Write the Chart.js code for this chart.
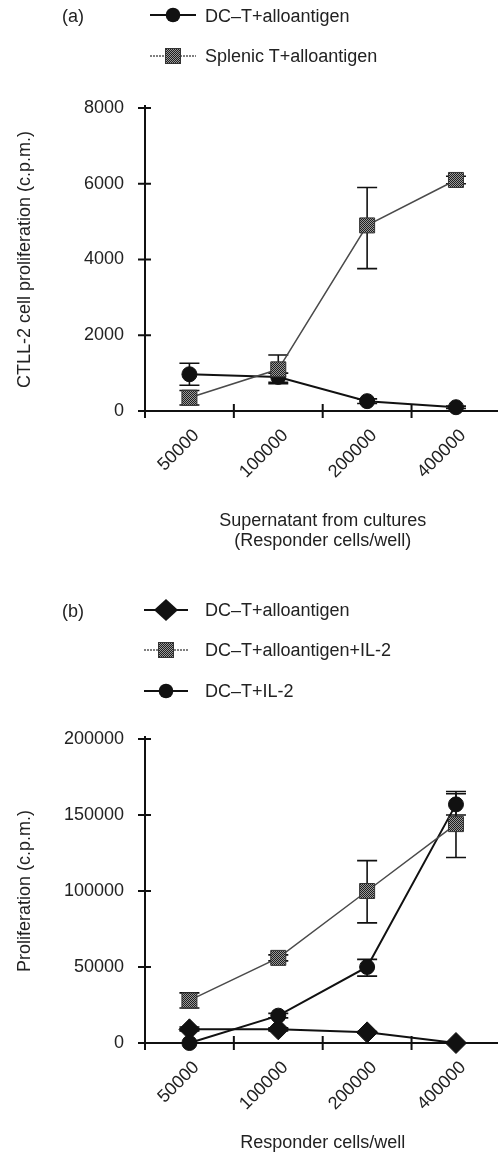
<!DOCTYPE html>
<html><head><meta charset="utf-8">
<script src="https://cdn.jsdelivr.net/npm/chart.js@4.4.0/dist/chart.umd.min.js"></script>
<style>
html,body{margin:0;padding:0;background:#fff;}
body{width:498px;height:1157px;position:relative;overflow:hidden;font-family:"Liberation Sans",Arial,Helvetica,sans-serif;color:#222;}
canvas{position:absolute;left:0;}
.txt{position:absolute;font-size:18px;line-height:20px;white-space:nowrap;color:#222;}
.mk{position:absolute;}
</style></head><body>
<canvas id="ca" width="512" height="560" style="top:0;width:512px;height:560px"></canvas>
<canvas id="cb" width="512" height="597" style="top:560px;width:512px;height:597px"></canvas>
<div id="overlay"></div>
<script>
// ---------- data ----------
const categories = ['50000', '100000', '200000', '400000'];

// panel (a)
const aLabels = ['DC\u2013T+alloantigen', 'Splenic T+alloantigen'];
const aDcT      = [970, 900, 260, 100];
const aDcTLow   = [680, 760, 200, 70];
const aDcTHigh  = [1260, 1000, 320, 130];
const aSplenic     = [350, 1100, 4900, 6100];
const aSplenicLow  = [160, 720, 3760, 6000];
const aSplenicHigh = [540, 1480, 5900, 6200];
const aYTicks = [0, 2000, 4000, 6000, 8000];

// panel (b)
const bLabels = ['DC\u2013T+alloantigen', 'DC\u2013T+alloantigen+IL-2', 'DC\u2013T+IL-2'];
const bDcT      = [9000, 9000, 7000, 0];
const bDcTLow   = [8000, 8000, 6500, 0];
const bDcTHigh  = [10500, 10000, 7500, 0];
const bAgIl2     = [28000, 56000, 100000, 144000];
const bAgIl2Low  = [23000, 54000, 79000, 122000];
const bAgIl2High = [33000, 58000, 120000, 164000];
const bIl2     = [0, 18000, 50000, 157000];
const bIl2Low  = [0, 16500, 44000, 150000];
const bIl2High = [0, 19500, 55000, 165500];
const bYTicks = [0, 50000, 100000, 150000, 200000];

// ---------- styling ----------
const FONT = '"Liberation Sans", Arial, Helvetica, sans-serif';
const INK = '#222';
Chart.defaults.font.family = FONT;
Chart.defaults.color = INK;

function ditherPattern() {
  const c = document.createElement('canvas');
  c.width = 2; c.height = 2;
  const g = c.getContext('2d');
  g.fillStyle = '#9a9a9a'; g.fillRect(0, 0, 2, 2);
  g.fillStyle = '#1e1e1e'; g.fillRect(0, 0, 1, 1); g.fillRect(1, 1, 1, 1);
  return g.createPattern(c, 'repeat');
}
const DITHER = ditherPattern();

const sketchPlugin = {
  id: 'sketchAxes',
  beforeDatasetsDraw(chart) {
    const { ctx, chartArea, scales: { x, y } } = chart;
    const y0 = y.getPixelForValue(y.min);
    const yTop = y.getPixelForValue(y.max);
    ctx.save();
    ctx.strokeStyle = '#111';
    ctx.lineWidth = 2;
    ctx.beginPath();
    ctx.moveTo(chartArea.left, y0 + 7); ctx.lineTo(chartArea.left, yTop - 3);
    ctx.moveTo(chartArea.left - 6, y0); ctx.lineTo(chartArea.right, y0);
    y.ticks.forEach(t => {
      const p = y.getPixelForValue(t.value);
      ctx.moveTo(chartArea.left - 7, p); ctx.lineTo(chartArea.left + 6, p);
    });
    for (let i = 1; i < x.ticks.length; i++) {
      const p = (x.getPixelForValue(i - 1) + x.getPixelForValue(i)) / 2;
      ctx.moveTo(p, y0 - 7); ctx.lineTo(p, y0 + 7);
    }
    ctx.stroke();
    // error bars
    ctx.lineWidth = 1.6;
    chart.data.datasets.forEach(ds => {
      if (!ds.errLow) return;
      ds.data.forEach((v, i) => {
        const lo = ds.errLow[i], hi = ds.errHigh[i];
        if (lo === hi) return;
        const px = x.getPixelForValue(i);
        const pl = y.getPixelForValue(lo), ph = y.getPixelForValue(hi);
        ctx.beginPath();
        ctx.moveTo(px, pl); ctx.lineTo(px, ph);
        ctx.moveTo(px - 10, pl); ctx.lineTo(px + 10, pl);
        ctx.moveTo(px - 10, ph); ctx.lineTo(px + 10, ph);
        ctx.stroke();
      });
    });
    ctx.restore();
  }
};

function series(label, data, lo, hi, style) {
  const base = {
    label, data, errLow: lo, errHigh: hi, tension: 0, clip: false,
    pointHoverRadius: 0
  };
  if (style === 'circle') return Object.assign(base, {
    borderColor: '#111', borderWidth: 2, pointStyle: 'circle', pointRadius: 7.5,
    pointBackgroundColor: '#111', pointBorderColor: '#111', pointBorderWidth: 1
  });
  if (style === 'rect') return Object.assign(base, {
    borderColor: '#4a4a4a', borderWidth: 1.5, pointStyle: 'rect', pointRadius: 10.6,
    pointBackgroundColor: DITHER, pointBorderColor: '#333', pointBorderWidth: 1
  });
  return Object.assign(base, {
    borderColor: '#111', borderWidth: 2, pointStyle: 'rectRot', pointRadius: 10.5,
    pointBackgroundColor: '#111', pointBorderColor: '#111', pointBorderWidth: 1
  });
}

function makeChart(id, cfg) {
  return new Chart(document.getElementById(id), {
    type: 'line',
    data: { labels: categories, datasets: cfg.datasets },
    options: {
      responsive: false, animation: false, devicePixelRatio: 1,
      layout: { padding: { top: cfg.top, left: 0, right: 0, bottom: 0 } },
      plugins: { legend: { display: false }, tooltip: { enabled: false } },
      scales: {
        x: {
          type: 'category', offset: true,
          grid: { display: false, drawTicks: false, offset: true },
          border: { display: false },
          ticks: { font: { size: 18 }, color: INK, maxRotation: 45, minRotation: 45, autoSkip: false, padding: 14, labelOffset: 7 },
          title: { display: true, text: cfg.xTitle, color: INK, font: { size: 18, lineHeight: 1.1 }, padding: { top: 0, bottom: cfg.xTitlePad } },
          afterFit(s) { s.height = cfg.xHeight; s.paddingLeft = 0; s.paddingRight = 0; }
        },
        y: {
          min: cfg.yTicks[0], max: cfg.yTicks[cfg.yTicks.length - 1],
          afterBuildTicks(s) { s.ticks = cfg.yTicks.map(v => ({ value: v })); },
          grid: { display: false, drawTicks: false },
          border: { display: false },
          ticks: { font: { size: 18 }, color: INK, padding: 21, callback: v => String(v) },
          title: { display: true, text: cfg.yTitle, color: INK, font: { size: 18, lineHeight: 1.2 }, padding: { top: 14, bottom: 0 } },
          afterFit(s) { s.width = 145; }
        }
      }
    },
    plugins: [sketchPlugin]
  });
}

makeChart('ca', {
  top: 108, xHeight: 149, xTitlePad: 9,
  xTitle: ['Supernatant from cultures', '(Responder cells/well)'],
  yTitle: 'CTLL-2 cell proliferation (c.p.m.)',
  yTicks: aYTicks,
  datasets: [
    series(aLabels[1], aSplenic, aSplenicLow, aSplenicHigh, 'rect'),
    series(aLabels[0], aDcT, aDcTLow, aDcTHigh, 'circle')
  ]
});

makeChart('cb', {
  top: 179, xHeight: 114, xTitlePad: 4,
  xTitle: 'Responder cells/well',
  yTitle: 'Proliferation (c.p.m.)',
  yTicks: bYTicks,
  datasets: [
    series(bLabels[1], bAgIl2, bAgIl2Low, bAgIl2High, 'rect'),
    series(bLabels[2], bIl2, bIl2Low, bIl2High, 'circle'),
    series(bLabels[0], bDcT, bDcTLow, bDcTHigh, 'diamond')
  ]
});

// ---------- HTML legends ----------
let uid = 0;
function markerSvg(kind, w) {
  const h = 26, cy = 13, cx = w / 2;
  const id = 'dp' + (uid++);
  let line, mark;
  if (kind === 'rect') {
    line = `<line x1="0" y1="${cy}" x2="${w}" y2="${cy}" stroke="#555" stroke-width="1.5" stroke-dasharray="2 1"/>`;
    mark = `<rect x="${cx - 7.5}" y="${cy - 7.5}" width="15" height="15" fill="url(#${id})" stroke="#333" stroke-width="1"/>`;
  } else if (kind === 'circle') {
    line = `<line x1="0" y1="${cy}" x2="${w}" y2="${cy}" stroke="#111" stroke-width="2"/>`;
    mark = `<circle cx="${cx}" cy="${cy}" r="7.3" fill="#111"/>`;
  } else {
    line = `<line x1="0" y1="${cy}" x2="${w}" y2="${cy}" stroke="#111" stroke-width="2"/>`;
    mark = `<polygon points="${cx - 12},${cy} ${cx},${cy - 11} ${cx + 12},${cy} ${cx},${cy + 11}" fill="#111"/>`;
  }
  return `<svg width="${w}" height="${h}" xmlns="http://www.w3.org/2000/svg"><defs><pattern id="${id}" width="2" height="2" patternUnits="userSpaceOnUse"><rect width="2" height="2" fill="#9a9a9a"/><rect width="1" height="1" fill="#1e1e1e"/><rect x="1" y="1" width="1" height="1" fill="#1e1e1e"/></pattern></defs>${line}${mark}</svg>`;
}
const overlay = document.getElementById('overlay');
function addText(text, x, cy) {
  const d = document.createElement('div');
  d.className = 'txt';
  d.style.left = x + 'px';
  d.style.top = (cy - 10) + 'px';
  d.textContent = text;
  overlay.appendChild(d);
}
function addMarker(kind, x, w, cy) {
  const d = document.createElement('div');
  d.className = 'mk';
  d.style.left = x + 'px';
  d.style.top = (cy - 13) + 'px';
  d.innerHTML = markerSvg(kind, w);
  overlay.appendChild(d);
}
addText('(a)', 62, 16);
addMarker('circle', 150, 46, 15); addText(aLabels[0], 205, 15.5);
addMarker('rect', 150, 46, 56);   addText(aLabels[1], 205, 56);
addText('(b)', 62, 611);
addMarker('diamond', 144, 44, 610); addText(bLabels[0], 205, 610);
addMarker('rect', 144, 44, 650);    addText(bLabels[1], 205, 650);
addMarker('circle', 144, 44, 691);  addText(bLabels[2], 205, 691);
</script>
</body></html>
